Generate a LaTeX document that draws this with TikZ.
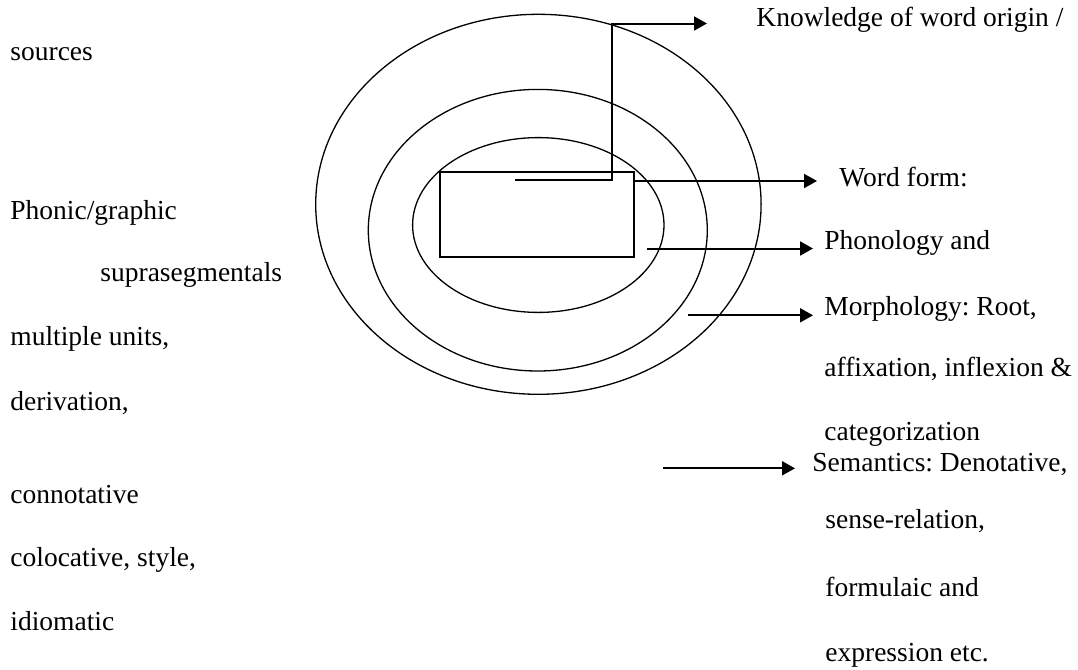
\documentclass[tikz,border=0pt]{standalone}
\usepackage{fontspec}
\setmainfont{Liberation Serif}
\usetikzlibrary{arrows.meta,shapes.geometric}
\frenchspacing
\begin{document}
\begin{tikzpicture}[x=0.5pt,y=-0.5pt,
  ring/.style={draw, ellipse, line width=0.65pt, inner sep=0pt, outer sep=0pt},
  box/.style={draw, rectangle, line width=0.55pt, inner sep=0pt, outer sep=0pt},
  lbl/.style={anchor=base west, inner sep=0pt, font=\fontsize{13.75}{16}\selectfont\frenchspacing},
  conn/.style={line width=1pt, -{Triangle[length=6.5pt,width=7pt]}}
]
\useasboundingbox (0,0) rectangle (1078,670);
% rings and core box
\node[ring, minimum width=222.7pt, minimum height=190pt] (outer) at (538.4,204.3) {};
\node[ring, minimum width=169.5pt, minimum height=140.8pt] (middle) at (537.8,230.2) {};
\node[ring, minimum width=125.7pt, minimum height=87.4pt] (inner) at (538.3,225) {};
\node[box, minimum width=97pt, minimum height=42.5pt] (core) at (537,214.5) {};
% right labels
\node[lbl] (origin) at (756,26.7) {Knowledge of word origin /};
\node[lbl] (form) at (839,186.7) {Word form:};
\node[lbl] (phono) at (824,249.3) {Phonology and};
\node[lbl] (morph) at (824,315) {Morphology: Root,};
\node[lbl] (affix) at (824,376.7) {affixation, inflexion \&};
\node[lbl] (categ) at (824,440) {categorization};
\node[lbl] (sem) at (812,471.7) {Semantics: Denotative,};
\node[lbl] (sense) at (825,528) {sense-relation,};
\node[lbl] (formul) at (825,596.7) {formulaic and};
\node[lbl] (expr) at (825,661.7) {expression etc.};
% left labels
\node[lbl] (sources) at (10,60.7) {sources};
\node[lbl] (phonic) at (10,219.3) {Phonic/graphic};
\node[lbl] (supra) at (100,281.7) {suprasegmentals};
\node[lbl] (multi) at (10,345) {multiple units,};
\node[lbl] (deriv) at (10,410) {derivation,};
\node[lbl] (connot) at (10,503) {connotative};
\node[lbl] (coloc) at (10,566) {colocative, style,};
\node[lbl] (idiom) at (10,630) {idiomatic};
% connector points
\coordinate (s1) at (515,180.3);
\coordinate (k1) at (611.7,180.3);
\coordinate (t1) at (707,23.5);
\coordinate (s2) at (635,181);
\coordinate (t2) at (817,181);
\coordinate (s3) at (646.7,248.5);
\coordinate (t3) at (813,248.5);
\coordinate (s4) at (687.7,315.3);
\coordinate (t4) at (813,315.3);
\coordinate (s5) at (663,468.3);
\coordinate (t5) at (795,468.3);
% connectors
\draw[conn] (s1) -- (k1) |- (t1);
\draw[conn] (s2) -- (t2);
\draw[conn] (s3) -- (t3);
\draw[conn] (s4) -- (t4);
\draw[conn] (s5) -- (t5);
\end{tikzpicture}
\end{document}
